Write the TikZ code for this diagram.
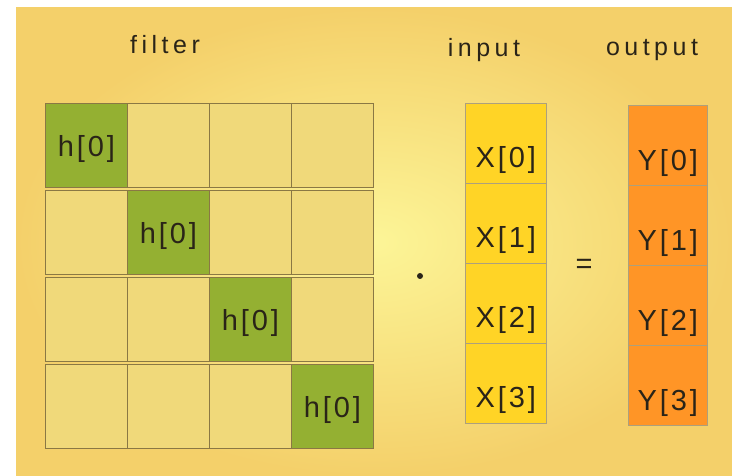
\documentclass[tikz,border=0pt]{standalone}
\usepackage{fontspec}
\setmainfont{Liberation Sans}
\newfontfamily\handlbl{Liberation Sans}[LetterSpace=10]
\newfontfamily\handtitle{Liberation Sans}[LetterSpace=18]
\definecolor{paperin}{HTML}{FCF597}
\definecolor{paperout}{HTML}{F4D06A}
\definecolor{palecell}{HTML}{F0D97A}
\definecolor{greencell}{HTML}{94B032}
\definecolor{goldcell}{HTML}{FFD426}
\definecolor{orangecell}{HTML}{FF9526}
\definecolor{edge}{HTML}{8A7844}
\definecolor{ink}{HTML}{2A2418}
\begin{document}
\begin{tikzpicture}[x=1pt,y=-1pt,
  cell/.style={draw=edge, line width=0.6pt, inner sep=0pt, anchor=north west,
    minimum width=82pt, minimum height=84pt},
  pale/.style={cell, fill=palecell},
  hcell/.style={cell, fill=greencell},
  incell/.style={cell, fill=goldcell, draw=edge!70, minimum width=81pt, minimum height=80pt},
  outcell/.style={cell, fill=orangecell, draw=edge!70, minimum width=79pt, minimum height=80pt},
  lbl/.style={text=ink, inner sep=0pt, font=\handlbl\fontsize{29}{33}\selectfont},
  title/.style={text=ink, inner sep=0pt, font=\handtitle\fontsize{25}{30}\selectfont}]
\useasboundingbox (0,0) rectangle (732,476);
\fill[white] (0,0) rectangle (732,476);
\shade[inner color=paperin, outer color=paperout] (16,8) rectangle (732,476);
% titles
\node[title] (tfilter) at (165,45) {filter};
\node[title] (tinput) at (484,50) {input};
\node[title] (toutput) at (652,50) {output};
% filter matrix
\foreach \r/\ty in {1/103,2/190,3/277,4/364}{
  \foreach \c/\tx in {1/45,2/127,3/209,4/291}{
    \ifnum\r=\c
      \node[hcell] (f\r\c) at (\tx,\ty) {};
      \node[lbl] (h\r) at ([yshift=-4pt]f\r\c.center) {h[0]};
    \else
      \node[pale] (f\r\c) at (\tx,\ty) {};
    \fi
  }
}
% input column
\foreach \i/\ty in {0/103,1/183,2/263,3/343}{
  \node[incell] (x\i) at (465,\ty) {};
  \node[lbl] (xl\i) at ([yshift=-17pt]x\i.center) {X[\i]};
}
% output column
\foreach \i/\ty in {0/105,1/185,2/265,3/345}{
  \node[outcell] (y\i) at (628,\ty) {};
  \node[lbl] (yl\i) at ([yshift=-18pt]y\i.center) {Y[\i]};
}
% operators
\fill[ink] (420,276) circle (3pt);
\node[lbl] (eq) at (584,266) {=};
\end{tikzpicture}
\end{document}
